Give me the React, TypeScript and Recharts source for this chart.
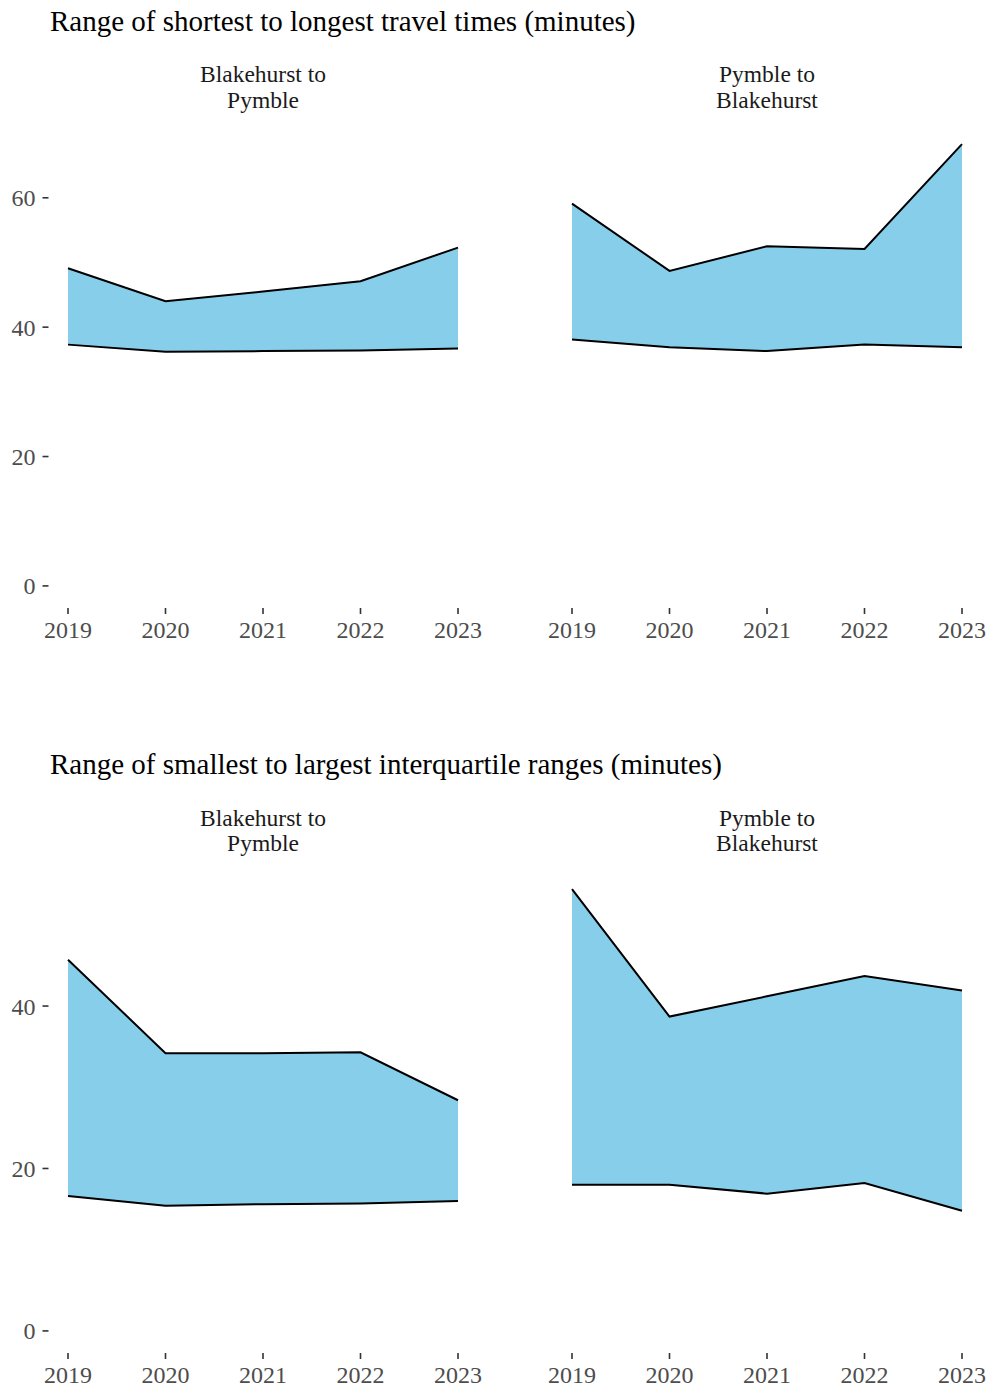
import React from 'react';
import { ComposedChart, Area, XAxis, YAxis } from 'recharts';

// ---- data ----
const years = [2019, 2020, 2021, 2022, 2023];

const travelBtoPLow = [37.3, 36.2, 36.3, 36.4, 36.7];
const travelBtoPHigh = [49.1, 44.0, 45.5, 47.1, 52.3];
const travelPtoBLow = [38.1, 36.9, 36.3, 37.3, 36.9];
const travelPtoBHigh = [59.1, 48.7, 52.5, 52.1, 68.3];

const iqrBtoPLow = [16.6, 15.4, 15.6, 15.7, 16.0];
const iqrBtoPHigh = [45.7, 34.2, 34.2, 34.3, 28.4];
const iqrPtoBLow = [18.0, 18.0, 16.9, 18.2, 14.8];
const iqrPtoBHigh = [54.4, 38.7, 41.2, 43.7, 41.9];

const travelTicks = [0, 20, 40, 60];
const iqrTicks = [0, 20, 40];

const facetLabels = [
  ['Blakehurst to', 'Pymble'],
  ['Pymble to', 'Blakehurst'],
];
const sectionTitles = [
  'Range of shortest to longest travel times (minutes)',
  'Range of smallest to largest interquartile ranges (minutes)',
];

// ---- helpers ----
const buildRows = (low: number[], high: number[]) =>
  years.map((y, i) => ({ year: y, range: [low[i], high[i]] }));

const buildDomain = (...highs: number[][]): [number, number] => {
  const max = Math.max(...highs.flat());
  const pad = max * 0.05;
  return [-pad, max + pad];
};

const FONT = '"Liberation Serif", "Times New Roman", Times, serif';
const Y_W = 48.5;
const PW = 429;
const PH = 486;
const M_TOP = 10;
const M_RIGHT = 10;
const X_H = 60;

type PanelProps = {
  data: any[];
  domain: [number, number];
  ticks: number[];
  left: number;
  top: number;
  showY: boolean;
};

function Panel({ data, domain, ticks, left, top, showY }: PanelProps) {
  const tickText = { fill: '#4d4d4d', fontSize: 24, fontFamily: FONT };
  const tickLineStyle = { stroke: '#333333', strokeWidth: 1.6 };
  return (
    <div style={{ position: 'absolute', left: left - Y_W, top: top - M_TOP }}>
      <ComposedChart
        width={Y_W + PW + M_RIGHT}
        height={M_TOP + PH + X_H}
        data={data}
        margin={{ top: M_TOP, right: M_RIGHT, bottom: 0, left: 0 }}
      >
        <XAxis
          dataKey="year"
          type="number"
          domain={[2018.8, 2023.2]}
          ticks={years}
          interval={0}
          allowDataOverflow
          axisLine={false}
          tickLine={tickLineStyle}
          tickSize={6}
          tickMargin={7}
          height={X_H}
          tick={tickText}
        />
        <YAxis
          type="number"
          domain={domain}
          ticks={ticks}
          interval={0}
          allowDataOverflow
          width={Y_W}
          axisLine={false}
          tickLine={showY ? tickLineStyle : false}
          tick={showY ? tickText : false}
          tickSize={6}
          tickMargin={7}
        />
        <Area
          type="linear"
          dataKey="range"
          fill="#87CEEB"
          fillOpacity={1}
          stroke="#000000"
          strokeWidth={2}
          dot={false}
          activeDot={false}
          isAnimationActive={false}
        />
      </ComposedChart>
    </div>
  );
}

export default function App() {
  const travelDomain = buildDomain(travelBtoPHigh, travelPtoBHigh);
  const iqrDomain = buildDomain(iqrBtoPHigh, iqrPtoBHigh);

  const sections = [
    {
      title: sectionTitles[0],
      top: 122,
      titleY: 30.5,
      domain: travelDomain,
      ticks: travelTicks,
      panels: [buildRows(travelBtoPLow, travelBtoPHigh), buildRows(travelPtoBLow, travelPtoBHigh)],
    },
    {
      title: sectionTitles[1],
      top: 866.8,
      titleY: 774,
      domain: iqrDomain,
      ticks: iqrTicks,
      panels: [buildRows(iqrBtoPLow, iqrBtoPHigh), buildRows(iqrPtoBLow, iqrPtoBHigh)],
    },
  ];
  const panelLefts = [48.5, 552.5];

  return (
    <div
      style={{
        position: 'absolute',
        left: 0,
        top: 0,
        width: 991,
        height: 1391,
        background: '#ffffff',
        overflow: 'hidden',
      }}
    >
      {sections.map((s, si) => (
        <React.Fragment key={si}>
          {s.panels.map((rows, pi) => (
            <Panel
              key={pi}
              data={rows}
              domain={s.domain}
              ticks={s.ticks}
              left={panelLefts[pi]}
              top={s.top}
              showY={pi === 0}
            />
          ))}
        </React.Fragment>
      ))}
      <svg
        width={991}
        height={1391}
        style={{ position: 'absolute', left: 0, top: 0, pointerEvents: 'none' }}
      >
        {sections.map((s, si) => (
          <g key={si}>
            <text x={50} y={s.titleY} fontSize={29} fontFamily={FONT} fill="#000000">
              {s.title}
            </text>
            {facetLabels.map((lines, pi) => (
              <text
                key={pi}
                x={panelLefts[pi] + PW / 2}
                y={s.titleY + 51.5}
                fontSize={23.5}
                fontFamily={FONT}
                fill="#1a1a1a"
                textAnchor="middle"
              >
                {lines.map((ln, li) => (
                  <tspan key={li} x={panelLefts[pi] + PW / 2} dy={li === 0 ? 0 : 25.7}>
                    {ln}
                  </tspan>
                ))}
              </text>
            ))}
          </g>
        ))}
      </svg>
    </div>
  );
}
